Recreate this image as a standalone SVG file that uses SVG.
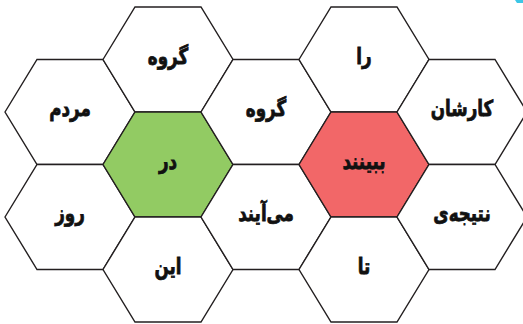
<svg xmlns="http://www.w3.org/2000/svg" width="523" height="324" viewBox="0 0 523 324">
  <style>
    .hex { fill: #ffffff; stroke: #231f20; stroke-width: 1.4; stroke-linejoin: miter; }
    .green { fill: #92cb63; }
    .red { fill: #f26768; }
    .lbl { font-family: "DejaVu Sans", "Noto Sans", sans-serif; font-weight: bold; font-size: 22px; fill: #111111; stroke: #111111; stroke-width: 0.8; text-anchor: middle; direction: rtl; }
  </style>
  <defs>
    <polygon id="hx" points="-65,0 -33,-52.5 33,-52.5 65,0 33,52.5 -33,52.5"/>
  </defs>
  <rect width="523" height="324" fill="#ffffff"/>
  <polygon points="515,0 523,0 523,3 517,3" fill="#3cc6e6"/>
  <g id="n-mardom" transform="translate(70,112)"><use href="#hx" class="hex"/><text class="lbl" transform="scale(0.76,1)" x="0" y="4">مردم</text></g>
  <g id="n-ruz" transform="translate(70,217)"><use href="#hx" class="hex"/><text class="lbl" transform="scale(0.76,1)" x="0" y="4">روز</text></g>
  <g id="n-goruh1" transform="translate(168,59.5)"><use href="#hx" class="hex"/><text class="lbl" transform="scale(0.76,1)" x="0" y="4">گروه</text></g>
  <g id="n-dar" transform="translate(168,164.5)"><use href="#hx" class="hex green"/><text class="lbl" transform="scale(0.76,1)" x="0" y="4">در</text></g>
  <g id="n-in" transform="translate(168,269.5)"><use href="#hx" class="hex"/><text class="lbl" transform="scale(0.76,1)" x="0" y="4">این</text></g>
  <g id="n-goruh2" transform="translate(266,112)"><use href="#hx" class="hex"/><text class="lbl" transform="scale(0.76,1)" x="0" y="4">گروه</text></g>
  <g id="n-miayand" transform="translate(266,217)"><use href="#hx" class="hex"/><text class="lbl" transform="scale(0.76,1)" x="0" y="4">می‌آیند</text></g>
  <g id="n-ra" transform="translate(364,59.5)"><use href="#hx" class="hex"/><text class="lbl" transform="scale(0.76,1)" x="0" y="4">را</text></g>
  <g id="n-bebinand" transform="translate(364,164.5)"><use href="#hx" class="hex red"/><text class="lbl" transform="scale(0.76,1)" x="0" y="4">ببینند</text></g>
  <g id="n-ta" transform="translate(364,269.5)"><use href="#hx" class="hex"/><text class="lbl" transform="scale(0.76,1)" x="0" y="4">تا</text></g>
  <g id="n-karshan" transform="translate(462,112)"><use href="#hx" class="hex"/><text class="lbl" transform="scale(0.76,1)" x="0" y="4">کارشان</text></g>
  <g id="n-natije" transform="translate(462,217)"><use href="#hx" class="hex"/><text class="lbl" transform="scale(0.76,1)" x="0" y="4">نتیجه‌ی</text></g>
  <g id="connectors"></g>
</svg>
